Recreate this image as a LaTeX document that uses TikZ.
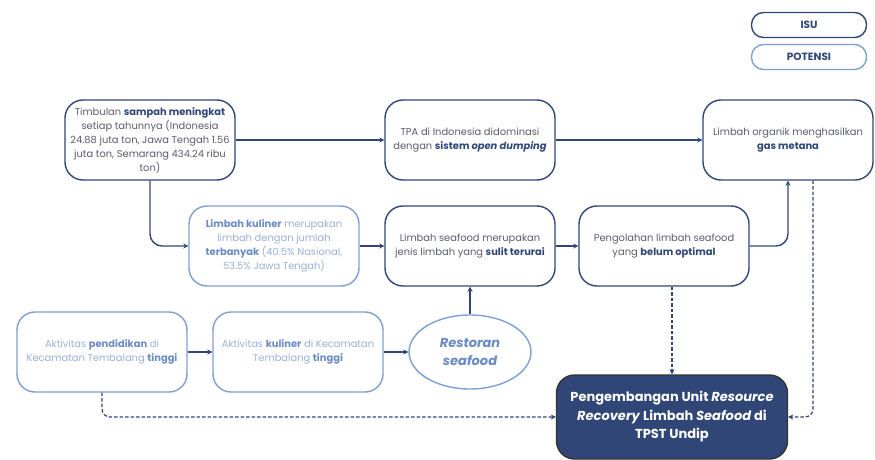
\documentclass[tikz,border=0pt]{standalone}
\usepackage{fontspec}
\setmainfont{Poppins}
\usetikzlibrary{arrows.meta,shapes.geometric}
\definecolor{navy}{HTML}{2F4677}
\definecolor{lightb}{HTML}{7E9FD3}
\definecolor{txt}{HTML}{5A5A6E}
\definecolor{ltxt}{HTML}{9AAFD6}
\definecolor{lbold}{HTML}{6A8AC2}
\newcommand{\hb}[1]{\textbf{\color{navy}#1}}
\newcommand{\lb}[1]{\textbf{\color{lbold}#1}}
\tikzset{
  base/.style={rounded corners=18pt, line width=1.4pt, minimum width=170pt, minimum height=80pt, align=center, inner sep=1pt, font=\fontsize{9.9}{14}\selectfont},
  isubox/.style={base, draw=navy, text=txt},
  potbox/.style={base, draw=lightb, text=ltxt},
  legbox/.style={rounded corners=12pt, line width=1.4pt, minimum width=115pt, minimum height=25pt, font=\bfseries\fontsize{10.5}{12}\selectfont, text=navy},
  arr/.style={-{Stealth[length=5pt,width=5pt]}, draw=navy, line width=1.4pt},
  darr/.style={-{Stealth[length=5pt,width=5pt]}, draw=navy, line width=1.2pt, dashed, dash pattern=on 3.5pt off 2pt},
}
\begin{document}
\begin{tikzpicture}[x=1pt,y=-1pt]
\useasboundingbox (0,0) rectangle (875,460);
\node[legbox, draw=navy] (isu) at (809,25) {ISU};
\node[legbox, draw=lightb] (pot) at (809,57) {POTENSI};

\node[isubox] (A) at (150,140) {Timbulan \hb{sampah meningkat}\\setiap tahunnya (Indonesia\\24.88 juta ton, Jawa Tengah 1.56\\juta ton, Semarang 434.24 ribu\\ton)};
\node[isubox] (B) at (470,140) {TPA di Indonesia didominasi\\dengan \hb{sistem \textit{open dumping}}};
\node[isubox] (C) at (788,140) {Limbah organik menghasilkan\\\hb{gas metana}};
\node[potbox] (D) at (274,246) {\lb{Limbah kuliner} merupakan\\limbah dengan jumlah\\\lb{terbanyak} (40.5\% Nasional,\\53.5\% Jawa Tengah)};
\node[isubox] (E) at (470,246) {Limbah seafood merupakan\\jenis limbah yang \hb{sulit terurai}};
\node[isubox] (F) at (664,246) {Pengolahan limbah seafood\\yang \hb{belum optimal}};
\node[potbox] (G) at (102,352) {Aktivitas \lb{pendidikan} di\\Kecamatan Tembalang \lb{tinggi}};
\node[potbox] (H) at (298,352) {Aktivitas \lb{kuliner} di Kecamatan\\Tembalang \lb{tinggi}};
\node[ellipse, draw=lightb, line width=1.4pt, minimum width=122pt, minimum height=74pt, inner sep=0pt, align=center, text=lbold, font=\bfseries\itshape\fontsize{13}{17.5}\selectfont] (I) at (470,352) {Restoran\\seafood};
\node[rounded corners=18pt, fill=navy, draw=black!80, line width=1.4pt, minimum width=231pt, minimum height=84pt, inner sep=1pt, align=center, text=white, font=\bfseries\fontsize{13}{18.5}\selectfont] (J) at (672,417) {Pengembangan Unit \textit{Resource}\\\textit{Recovery} Limbah \textit{Seafood} di\\TPST Undip};

\draw[arr] (A) -- (B);
\draw[arr] (B) -- (C);
\draw[arr, rounded corners=12pt] (A.south) |- (D.west);
\draw[arr] (D) -- (E);
\draw[arr] (E) -- (F);
\draw[arr, rounded corners=12pt] (F.east) -| (C.south);
\draw[arr] (G) -- (H);
\draw[arr] (H) -- (I);
\draw[arr] (I.north) -- (E.south);
\draw[darr] (J.north |- F.south) -- (J.north);
\draw[darr, rounded corners=8pt] ([xshift=25pt]C.south) |- (J.east);
\draw[darr, rounded corners=8pt] (G.south) |- (J.west);
\end{tikzpicture}
\end{document}
